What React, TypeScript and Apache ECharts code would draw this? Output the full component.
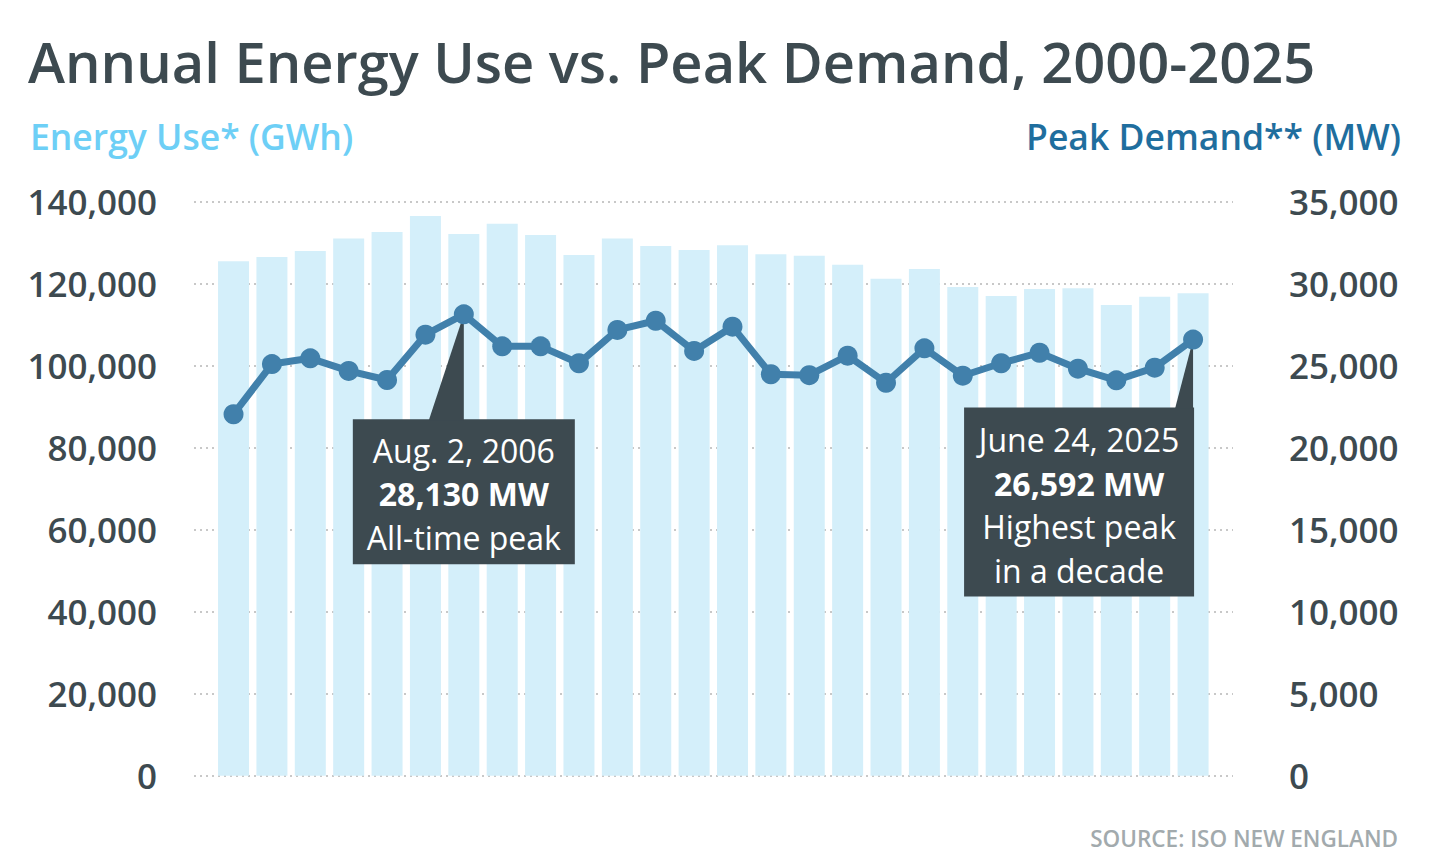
import React, { useEffect, useRef } from "react";
import * as echarts from "echarts";

const years = [2000, 2001, 2002, 2003, 2004, 2005, 2006, 2007, 2008, 2009, 2010, 2011, 2012, 2013, 2014, 2015, 2016, 2017, 2018, 2019, 2020, 2021, 2022, 2023, 2024, 2025];
const energyUse = [125500, 126500, 128000, 131000, 132600, 136500, 132100, 134600, 131900, 127000, 131000, 129200, 128200, 129400, 127200, 126800, 124600, 121200, 123600, 119200, 117000, 118700, 118900, 114800, 116800, 117700];
const peakDemand = [22040, 25100, 25450, 24680, 24130, 26890, 28130, 26180, 26180, 25150, 27180, 27740, 25900, 27380, 24480, 24420, 25610, 23960, 26060, 24390, 25150, 25790, 24820, 24110, 24880, 26592];

const titleText = "Annual Energy Use vs. Peak Demand, 2000-2025";
const leftAxisTitle = "Energy Use* (GWh)";
const rightAxisTitle = "Peak Demand** (MW)";
const sourceText = "SOURCE: ISO NEW ENGLAND";
const note1Year = 2006;
const note1Lines = ["Aug. 2, 2006", "28,130 MW", "All-time peak"];
const note2Year = 2025;
const note2Lines = ["June 24, 2025", "26,592 MW", "Highest peak", "in a decade"];

const FONT = "'Open Sans', 'Noto Sans', sans-serif";
const DARK = "#3d4a50";
const BOX = "#3d4a50";

export default function App() {
  const ref = useRef<HTMLDivElement>(null);
  useEffect(() => {
    const chart = echarts.init(ref.current!, null, { renderer: "svg" });
    const fmt = (v: number) => v.toLocaleString("en-US");
    chart.setOption({
      animation: false,
      backgroundColor: "#ffffff",
      grid: { left: 194, right: 203, top: 201.7, bottom: 86.3, containLabel: false },
      xAxis: {
        type: "value",
        min: 1998.97,
        max: 2026.04,
        show: false,
      },
      yAxis: [
        {
          type: "value",
          min: 0,
          max: 140000,
          interval: 20000,
          axisLine: { show: false },
          axisTick: { show: false },
          axisLabel: { formatter: fmt, fontSize: 35, fontWeight: 600, color: DARK, fontFamily: FONT, margin: 37, padding: [0, 0, 5, 0] },
          splitLine: { show: true, lineStyle: { color: "#c8c8c8", width: 2, type: [2, 4] } },
        },
        {
          type: "value",
          min: 0,
          max: 35000,
          interval: 5000,
          position: "right",
          axisLine: { show: false },
          axisTick: { show: false },
          axisLabel: { formatter: fmt, fontSize: 35, fontWeight: 600, color: DARK, fontFamily: FONT, margin: 56, align: "left", padding: [0, 0, 5, 0] },
          splitLine: { show: false },
        },
      ],
      series: [
        {
          type: "bar",
          yAxisIndex: 0,
          barWidth: 31,
          itemStyle: { color: "#d4effa" },
          data: years.map((y, i) => [y, energyUse[i]]),
          z: 2,
        },
        {
          type: "line",
          yAxisIndex: 1,
          symbol: "circle",
          symbolSize: 20,
          lineStyle: { color: "#4180ab", width: 7 },
          itemStyle: { color: "#4180ab" },
          data: years.map((y, i) => [y, peakDemand[i]]),
          z: 10,
        },
      ],
    });

    const i1 = years.indexOf(note1Year);
    const i2 = years.indexOf(note2Year);
    const p1 = chart.convertToPixel({ seriesIndex: 1 }, [note1Year, peakDemand[i1]]) as number[];
    const p2 = chart.convertToPixel({ seriesIndex: 1 }, [note2Year, peakDemand[i2]]) as number[];

    const lineH = 43.5;
    const mkText = (lines: string[], cx: number, firstY: number) =>
      lines.map((t, k) => ({
        type: "text",
        z: 6,
        style: {
          text: t,
          x: cx,
          y: firstY + k * lineH,
          fill: "#ffffff",
          fontFamily: FONT,
          fontSize: 32,
          fontWeight: k === 1 ? 700 : 400,
          align: "center",
          verticalAlign: "middle",
        },
      }));

    const b1w = 222, b1h = 145;
    const b1x = p1[0] - b1w / 2, b1y = p1[1] + 105;
    const b2w = 230, b2h = 189;
    const b2x = p2[0] + 1 - b2w, b2y = p2[1] + 68;

    chart.setOption({
      graphic: [
        {
          type: "text",
          style: { text: titleText, x: 28, y: 61, fill: DARK, fontFamily: FONT, fontSize: 56, fontWeight: 600, align: "left", verticalAlign: "middle" },
        },
        {
          type: "text",
          style: { text: leftAxisTitle, x: 30, y: 136, fill: "#6dcff6", fontFamily: FONT, fontSize: 35.5, fontWeight: 600, align: "left", verticalAlign: "middle" },
        },
        {
          type: "text",
          style: { text: rightAxisTitle, x: 1401, y: 136, fill: "#1f6e9e", fontFamily: FONT, fontSize: 35.5, fontWeight: 600, align: "right", verticalAlign: "middle" },
        },
        {
          type: "text",
          style: { text: sourceText, x: 1398, y: 838, fill: "#a2aaad", fontFamily: FONT, fontSize: 22.5, fontWeight: 600, align: "right", verticalAlign: "middle" },
        },
        { type: "rect", z: 5, shape: { x: b1x, y: b1y, width: b1w, height: b1h }, style: { fill: BOX } },
        { type: "polygon", z: 5, shape: { points: [[p1[0] - 35, b1y + 1], [p1[0], b1y + 1], [p1[0], p1[1]]] }, style: { fill: BOX } },
        ...mkText(note1Lines, b1x + b1w / 2, b1y + 31),
        { type: "rect", z: 5, shape: { x: b2x, y: b2y, width: b2w, height: b2h }, style: { fill: BOX } },
        { type: "polygon", z: 5, shape: { points: [[p2[0] - 18, b2y + 1], [p2[0], b2y + 1], [p2[0], p2[1]]] }, style: { fill: BOX } },
        ...mkText(note2Lines, b2x + b2w / 2, b2y + 32),
      ],
    });

    return () => chart.dispose();
  }, []);
  return (
    <div
      ref={ref}
      style={{ position: "absolute", left: 0, top: 0, width: 1436, height: 862, background: "#ffffff" }}
    />
  );
}
